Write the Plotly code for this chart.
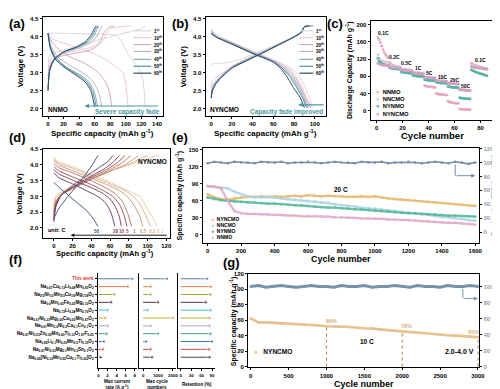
import plotly.graph_objects as go

W, H = 500, 389
FONT = "Liberation Sans, Arial, sans-serif"

def X(p): return p / W
def Y(p): return 1 - p / H
def dx(a, b): return [a / W, b / W]
def dy(top, bottom): return [1 - bottom / H, 1 - top / H]

# ---------------- panel (a) NNMO cycling curves ----------------
a_labels = ["1<sup>st</sup>", "10<sup>th</sup>", "20<sup>th</sup>", "30<sup>th</sup>", "40<sup>th</sup>", "50<sup>th</sup>", "60<sup>th</sup>"]
cyc_colors = ["#d9d9d9", "#eccad4", "#d6a9b7", "#b9b4c4", "#86adb6", "#5a91a4", "#2c4c6a"]
a_chg_cap = [[0, 3, 15, 35, 55, 75, 95, 110, 120, 126],
             [0, 3, 15, 35, 55, 68, 74, 80, 92, 107],
             [0, 3, 12, 30, 50, 62, 68, 73, 78, 85],
             [0, 3, 10, 25, 42, 56, 63, 67, 70],
             [0, 2, 8, 22, 38, 52, 59, 63, 66],
             [0, 2, 8, 21, 37, 50, 57, 61, 64],
             [0, 2, 7, 20, 35, 48, 55, 59, 62]]
a_chg_v = [[3.25, 3.5, 3.6, 3.72, 3.85, 3.97, 4.08, 4.16, 4.23, 4.3],
           [3.05, 3.35, 3.5, 3.6, 3.7, 3.82, 4.05, 4.22, 4.27, 4.3],
           [2.9, 3.25, 3.42, 3.52, 3.6, 3.72, 3.92, 4.15, 4.25, 4.3],
           [2.6, 3.15, 3.42, 3.58, 3.7, 3.85, 4.02, 4.2, 4.3],
           [2.5, 3.05, 3.35, 3.58, 3.7, 3.85, 4.02, 4.2, 4.3],
           [2.5, 3.05, 3.35, 3.58, 3.7, 3.86, 4.03, 4.2, 4.3],
           [2.5, 3.05, 3.35, 3.58, 3.7, 3.86, 4.03, 4.2, 4.3]]
a_dis_cap = [[0, 30, 60, 88, 95, 102, 110, 117, 122, 125],
             [0, 5, 20, 40, 60, 75, 88, 96, 100, 103],
             [0, 5, 15, 30, 45, 58, 68, 75, 79, 82],
             [0, 4, 12, 28, 44, 56, 63, 67, 69],
             [0, 3, 10, 24, 40, 52, 59, 62, 64],
             [0, 3, 10, 23, 38, 50, 57, 60, 62],
             [0, 3, 9, 22, 36, 48, 55, 58, 60]]
a_dis_v = [[4.1, 4.09, 4.07, 4.04, 3.85, 3.55, 3.3, 3.1, 2.8, 2.05],
           [4.1, 3.95, 3.82, 3.68, 3.52, 3.35, 3.15, 3.0, 2.7, 2.05],
           [4.05, 3.85, 3.62, 3.42, 3.28, 3.12, 2.92, 2.7, 2.45, 2.05],
           [4.05, 3.75, 3.45, 3.2, 3.0, 2.8, 2.55, 2.3, 2.05],
           [4.1, 3.72, 3.42, 3.15, 2.95, 2.75, 2.5, 2.25, 2.05],
           [4.1, 3.7, 3.4, 3.14, 2.94, 2.74, 2.5, 2.25, 2.05],
           [4.1, 3.68, 3.38, 3.13, 2.93, 2.73, 2.5, 2.25, 2.05]]

# ---------------- panel (b) NYNCMO cycling curves ----------------
b_chg_cap = [[0, 2, 10, 20, 35, 50, 65, 78, 86, 90, 100],
             [0, 1, 4, 9, 20, 35, 50, 65, 80, 87, 90, 99],
             [0, 1, 4, 9, 20, 35, 50, 65, 80, 87, 90, 98],
             [0, 1, 4, 9, 20, 35, 50, 65, 80, 87, 90, 97],
             [0, 1, 4, 9, 20, 35, 50, 65, 80, 87, 90, 96],
             [0, 1, 4, 9, 20, 35, 50, 65, 80, 87, 90, 95],
             [0, 1, 4, 9, 20, 35, 50, 65, 80, 87, 90, 94]]
b_chg_v = [[3.22, 3.25, 3.26, 3.3, 3.45, 3.62, 3.8, 3.97, 4.1, 4.25, 4.3],
           [2.6, 2.75, 2.85, 2.95, 3.18, 3.4, 3.6, 3.8, 4.0, 4.12, 4.28, 4.3],
           [2.4, 2.6, 2.75, 2.9, 3.16, 3.38, 3.58, 3.79, 4.0, 4.12, 4.28, 4.3],
           [2.35, 2.55, 2.72, 2.88, 3.15, 3.37, 3.57, 3.78, 4.0, 4.12, 4.28, 4.3],
           [2.3, 2.5, 2.7, 2.86, 3.14, 3.36, 3.56, 3.78, 3.99, 4.12, 4.28, 4.3],
           [2.3, 2.5, 2.68, 2.85, 3.13, 3.35, 3.55, 3.77, 3.99, 4.12, 4.28, 4.3],
           [2.28, 2.48, 2.66, 2.84, 3.12, 3.34, 3.55, 3.77, 3.99, 4.12, 4.28, 4.3]]
b_dis_cap = [[0, 5, 20, 40, 60, 72, 82, 89, 94, 98],
             [0, 5, 20, 40, 60, 71, 80, 87, 92, 97],
             [0, 5, 20, 40, 60, 70, 79, 86, 91, 96],
             [0, 5, 20, 40, 60, 69, 78, 85, 90, 94],
             [0, 5, 20, 40, 60, 68, 77, 84, 89, 93],
             [0, 5, 20, 40, 60, 68, 76, 83, 88, 92],
             [0, 5, 20, 40, 60, 67, 74, 80, 86, 90]]
b_dis_v = [[4.22, 4.05, 3.85, 3.6, 3.36, 3.2, 3.02, 2.7, 2.35, 2.02],
           [4.18, 4.03, 3.84, 3.58, 3.34, 3.18, 2.98, 2.65, 2.3, 2.02],
           [4.16, 4.02, 3.83, 3.57, 3.33, 3.16, 2.95, 2.62, 2.3, 2.02],
           [4.14, 4.01, 3.82, 3.56, 3.32, 3.15, 2.92, 2.6, 2.3, 2.02],
           [4.12, 4.0, 3.81, 3.55, 3.31, 3.14, 2.9, 2.58, 2.3, 2.02],
           [4.1, 3.99, 3.8, 3.54, 3.3, 3.13, 2.88, 2.56, 2.3, 2.02],
           [4.08, 3.98, 3.79, 3.53, 3.29, 3.12, 2.85, 2.55, 2.3, 2.02]]

# ---------------- panel (c) rate capability ----------------
c_names = ["NNMO", "NNCMO", "NYNMO", "NYNCMO"]
c_colors = ["#e6a6be", "#d8c6d6", "#58b3a5", "#d3a0c4"]
c_cycles = list(range(1, 86))
c_vals = [
    [170, 165, 158, 150, 142, 135, 130, 126, 123,
     112, 108, 106, 105, 104, 103, 102, 101, 100,
     96, 95, 94, 93, 93, 92, 92, 91, 91,
     86, 85, 85, 84, 84, 84, 83, 83, 83,
     58, 57, 56, 56, 55, 55, 55, 54, 54,
     40, 39, 38, 38, 37, 37, 37, 36, 36,
     22, 20, 19, 19, 18, 18, 17, 17, 17,
     4, 3, 3, 3, 2, 2, 2, 2, 2,
     110, 108, 106, 105, 104, 103, 102, 101, 100, 99, 98, 97, 96],
    [130, 122, 118, 116, 115, 114, 113, 112, 112,
     106, 105, 104, 104, 103, 103, 102, 102, 101,
     98, 97, 97, 96, 96, 95, 95, 95, 94,
     90, 89, 89, 88, 88, 88, 87, 87, 87,
     76, 75, 75, 75, 74, 74, 74, 74, 73,
     70, 69, 69, 68, 68, 68, 68, 67, 67,
     64, 63, 63, 62, 62, 62, 62, 61, 61,
     50, 49, 49, 48, 48, 48, 47, 47, 47,
     106, 105, 104, 103, 102, 101, 100, 99, 99, 98, 97, 96, 95],
    [122, 115, 112, 110, 108, 107, 106, 105, 105,
     100, 99, 98, 98, 97, 97, 97, 96, 96,
     90, 89, 89, 88, 88, 88, 87, 87, 87,
     82, 81, 81, 80, 80, 80, 80, 79, 79,
     72, 71, 71, 70, 70, 70, 70, 69, 69,
     66, 65, 65, 64, 64, 64, 64, 63, 63,
     56, 55, 55, 54, 54, 54, 54, 53, 53,
     30, 29, 29, 28, 28, 28, 28, 27, 27,
     95, 93, 92, 90, 89, 88, 87, 86, 85, 84, 83, 82, 81],
    [110, 108, 107, 106, 106, 105, 105, 105, 104,
     102, 101, 101, 100, 100, 100, 99, 99, 99,
     95, 94, 94, 94, 93, 93, 93, 93, 92,
     88, 88, 87, 87, 87, 87, 86, 86, 86,
     78, 77, 77, 77, 77, 76, 76, 76, 76,
     70, 70, 69, 69, 69, 69, 69, 68, 68,
     64, 63, 63, 63, 63, 62, 62, 62, 62,
     48, 48, 48, 47, 47, 47, 47, 47, 46,
     102, 101, 101, 100, 100, 99, 99, 99, 98, 98, 97, 97, 97],
]
c_rate_labels = ["0.1C", "0.2C", "0.5C", "1C", "5C", "10C", "20C", "50C", "0.1C"]
c_label_x = [5, 14, 23, 32, 41, 51, 60, 69, 80]
c_label_y = [180, 124, 111, 99, 88, 79, 71, 58, 118]

# ---------------- panel (d) NYNCMO rate curves ----------------
d_rates = ["0.1", "0.2", "0.5", "1", "5", "10", "20", "50"]
d_colors = ["#e9cfa6", "#dcb48f", "#cf9a7d", "#b8786b", "#a1565a", "#86485e", "#664469", "#4c5a82"]
d_dis_cap = [[0, 5, 20, 40, 60, 75, 85, 92, 100, 106, 110],
             [0, 5, 20, 40, 60, 75, 85, 92, 98, 103],
             [0, 5, 20, 40, 60, 72, 80, 87, 92, 95],
             [0, 5, 20, 40, 55, 65, 73, 79, 83],
             [0, 5, 20, 40, 55, 63, 70, 75, 78],
             [0, 5, 20, 40, 52, 60, 66, 70, 72],
             [0, 5, 20, 35, 48, 55, 60, 63, 65],
             [0, 5, 15, 25, 35, 42, 47]]
d_dis_v = [[4.25, 4.1, 3.95, 3.7, 3.45, 3.25, 3.1, 3.0, 2.6, 2.3, 2.05],
           [4.2, 4.05, 3.9, 3.65, 3.4, 3.2, 3.0, 2.75, 2.4, 2.05],
           [4.15, 4.0, 3.82, 3.58, 3.33, 3.15, 2.95, 2.65, 2.35, 2.05],
           [4.05, 3.92, 3.75, 3.5, 3.28, 3.1, 2.85, 2.45, 2.05],
           [3.95, 3.82, 3.62, 3.38, 3.15, 3.0, 2.75, 2.4, 2.05],
           [3.85, 3.72, 3.52, 3.28, 3.1, 2.92, 2.65, 2.35, 2.05],
           [3.75, 3.6, 3.4, 3.18, 2.98, 2.8, 2.55, 2.3, 2.05],
           [3.45, 3.3, 3.05, 2.8, 2.55, 2.3, 2.05]]
d_chg_cap = [[0, 2, 8, 20, 40, 60, 80, 95, 105, 112],
             [0, 2, 8, 20, 40, 60, 80, 92, 100],
             [0, 2, 8, 20, 40, 60, 75, 85, 90],
             [0, 2, 8, 20, 40, 60, 72, 82],
             [0, 2, 8, 20, 40, 58, 68, 76],
             [0, 2, 8, 20, 40, 55, 63, 70],
             [0, 2, 8, 20, 35, 50, 58, 63],
             [0, 5, 15, 25, 35, 42, 47]]
d_chg_v = [[2.7, 3.0, 3.15, 3.3, 3.55, 3.8, 4.0, 4.15, 4.25, 4.3],
           [2.6, 2.95, 3.1, 3.28, 3.55, 3.8, 4.02, 4.2, 4.3],
           [2.5, 2.85, 3.05, 3.25, 3.55, 3.8, 4.0, 4.18, 4.3],
           [2.4, 2.8, 3.05, 3.25, 3.55, 3.85, 4.05, 4.3],
           [2.3, 2.75, 3.05, 3.28, 3.6, 3.88, 4.08, 4.3],
           [2.25, 2.7, 3.05, 3.3, 3.65, 3.9, 4.08, 4.3],
           [2.2, 2.65, 3.05, 3.35, 3.65, 3.95, 4.12, 4.3],
           [2.3, 2.6, 3.0, 3.35, 3.75, 4.05, 4.3]]
d_label_x = [114, 105, 96, 86, 79, 73, 66, 46]

# ---------------- panel (e) long cycling at 20 C ----------------
e_cycles = list(range(0, 1601, 40))
e_names = ["NYNCMO", "NNCMO", "NYNMO", "NNMO"]
e_colors = ["#e8b46c", "#a9d3e3", "#52b79b", "#e2a7c8"]
e_vals = [
    [72, 66, 63, 62, 64, 66, 67, 67, 68, 67, 68, 67, 68, 69, 68, 70, 69, 68, 69, 68, 68,
     67, 67, 68, 67, 68, 66, 64, 63, 62, 61, 60, 59, 58, 57, 56, 55, 54, 53, 52, 51],
    [86, 85, 83, 82, 76, 72, 68, 66, 66, 67, 66, 64, 63, 62, 61, 60, 59, 57, 56, 54, 53,
     51, 50, 48, 47, 46, 45, 43, 42, 40, 39, 38, 36, 35, 33, 32, 31, 29, 28, 26, 25],
    [66, 63, 61, 60, 59, 58, 57, 57, 56, 55, 55, 54, 53, 52, 52, 51, 50, 49, 48, 48, 47,
     46, 45, 45, 44, 43, 42, 41, 40, 39, 38, 38, 37, 36, 36, 35, 34, 34, 33, 33, 32],
    [86, 85, 82, 60, 42, 38, 37, 37, 36, 36, 35, 35, 34, 34, 33, 33, 33, 32, 32, 31, 31,
     30, 30, 29, 29, 28, 28, 27, 27, 26, 26, 25, 24, 24, 23, 22, 21, 21, 20, 19, 18],
]
e_ce = [99, 101, 100, 99, 101, 100, 100, 99, 101, 100, 100, 101, 99, 100, 100, 101, 100, 99, 100, 101, 100,
        100, 99, 101, 100, 100, 101, 99, 100, 100, 101, 100, 99, 100, 101, 100, 99, 101, 100, 98, 100]

# ---------------- panel (f) literature comparison ----------------
f_names = ['<span style="color:#d63a3a">This work</span>',
           "Na<sub>0.67</sub>Cu<sub>0.13</sub>Li<sub>0.08</sub>Mn<sub>0.83</sub>O<sub>2</sub>",
           "Na<sub>2/3</sub>Ni<sub>1/3</sub>Mn<sub>2/3</sub>Cu<sub>1/9</sub>Mg<sub>1/18</sub>O<sub>2</sub>",
           "Na<sub>0.6</sub>Mn<sub>0.65</sub>Fe<sub>0.25</sub>Mg<sub>0.10</sub>O<sub>2</sub>",
           "Na<sub>0.72</sub>Li<sub>0.24</sub>Mn<sub>0.76</sub>O<sub>2</sub>",
           "Na<sub>0.67</sub>Ni<sub>0.23</sub>Mg<sub>0.05</sub>Cu<sub>0.05</sub>Mn<sub>0.67</sub>O<sub>2</sub>",
           "Na<sub>0.67</sub>Mn<sub>0.6</sub>Ni<sub>0.2</sub>Cu<sub>0.1</sub>Co<sub>0.1</sub>O<sub>2</sub>",
           "Na<sub>0.67</sub>Ni<sub>0.23</sub>Zn<sub>0.05</sub>Mn<sub>0.60</sub>Ti<sub>0.12</sub>O<sub>1.97</sub>F<sub>0.05</sub>",
           "Na<sub>0.85</sub>Li<sub>0.1</sub>Ni<sub>0.25</sub>Mn<sub>0.5</sub>Ti<sub>0.15</sub>O<sub>2</sub>",
           "Na<sub>0.67</sub>Ni<sub>0.33</sub>Mg<sub>0.1</sub>Mn<sub>0.5</sub>Sn<sub>0.1</sub>O<sub>2</sub>",
           "Na<sub>0.66</sub>[Ni<sub>0.33</sub>Mn<sub>0.55</sub>Cu<sub>0.1</sub>Ti<sub>0.02</sub>]O<sub>2</sub>"]
f_colors = ["#5a7f9c", "#e9813f", "#a7a93c", "#553344", "#3cbfcf", "#c9a93a",
            "#b89ad6", "#3aa37f", "#3a76b8", "#d8494a", "#444444"]
f_rate = [7.5, 6.5, 3.5, 2.8, 2.0, 1.5, 2.0, 1.8, 1.2, 1.0, 0.5]
f_cycles = [1600, 500, 500, 1000, 300, 2000, 500, 1000, 200, 500, 600]
f_ret = [76, 87, 86, 72, 86, 83, 83, 86, 90, 82, 83]
f_pos = [10, 9, 8, 7, 6, 5, 4, 3, 2, 1, 0]

# ---------------- panel (g) 3000 cycles at 10 C ----------------
g_cycles = list(range(0, 3001, 100))
g_cap = [62, 57, 57, 56.5, 56, 55.5, 55, 54.5, 54, 53, 52, 52, 51.5, 51, 50, 49.5,
         49, 48, 47, 46, 45, 44.5, 44, 43, 42, 41, 40.5, 40, 39.5, 39, 38]
g_ce = [100, 101, 99, 100, 101, 100, 99, 100, 101, 100, 100, 99, 101, 100, 100, 101,
        99, 100, 100, 101, 100, 99, 101, 100, 100, 99, 101, 100, 100, 101, 100]
g_marks = [1000, 2000, 3000]
g_mark_cap = [52, 45, 38]
g_mark_text = ["89%", "78%", "65%"]

fig = go.Figure()

def line(xs, ys, color, xa, ya, width=1.0):
    fig.add_trace(go.Scatter(x=xs, y=ys, mode="lines", xaxis=xa, yaxis=ya,
                             line=dict(color=color, width=width, shape="spline", smoothing=0.6),
                             showlegend=False, hoverinfo="skip"))

for i in range(7):
    line(a_chg_cap[i], a_chg_v[i], cyc_colors[i], "x", "y")
    line(a_dis_cap[i], a_dis_v[i], cyc_colors[i], "x", "y")
    line(b_chg_cap[i], b_chg_v[i], cyc_colors[i], "x2", "y2")
    line(b_dis_cap[i], b_dis_v[i], cyc_colors[i], "x2", "y2")

for i in range(4):
    fig.add_trace(go.Scatter(x=c_cycles, y=c_vals[i], mode="markers", xaxis="x3", yaxis="y3",
                             marker=dict(color=c_colors[i], size=2.8), name=c_names[i],
                             showlegend=False))

for i in range(8):
    line(d_chg_cap[i], d_chg_v[i], d_colors[i], "x4", "y4")
    line(d_dis_cap[i], d_dis_v[i], d_colors[i], "x4", "y4")

for i in range(4):
    fig.add_trace(go.Scatter(x=e_cycles, y=e_vals[i], mode="lines+markers", xaxis="x5", yaxis="y5",
                             line=dict(color=e_colors[i], width=2.2),
                             marker=dict(color=e_colors[i], size=2.8), opacity=0.9,
                             name=e_names[i], showlegend=False))
fig.add_trace(go.Scatter(x=e_cycles, y=e_ce, mode="lines+markers", xaxis="x5", yaxis="y6",
                         line=dict(color="#6f8ca4", width=1.6), marker=dict(color="#6f8ca4", size=2.5),
                         showlegend=False))

for j, (vals, xa) in enumerate([(f_rate, "x9"), (f_cycles, "x10"), (f_ret, "x11")]):
    ya = ["y9", "y10", "y11"][j]
    for i in range(len(f_pos)):
        fig.add_trace(go.Scatter(x=[0, vals[i]], y=[f_pos[i], f_pos[i]], mode="lines+markers",
                                 xaxis=xa, yaxis=ya, line=dict(color=f_colors[i], width=1),
                                 marker=dict(color=f_colors[i], size=[0, 3.5], symbol="circle"),
                                 showlegend=False, hoverinfo="skip"))

fig.add_trace(go.Scatter(x=g_cycles, y=g_cap, mode="lines+markers", xaxis="x7", yaxis="y7",
                         line=dict(color="#e6c28f", width=2.6), marker=dict(color="#e6c28f", size=2.5),
                         name="NYNCMO", showlegend=False))
fig.add_trace(go.Scatter(x=g_cycles, y=g_ce, mode="lines+markers", xaxis="x7", yaxis="y8",
                         line=dict(color="#7593aa", width=3), marker=dict(color="#7593aa", size=2.5),
                         showlegend=False))
for k in range(3):
    fig.add_trace(go.Scatter(x=[g_marks[k], g_marks[k]], y=[0, g_mark_cap[k]], mode="lines",
                             xaxis="x7", yaxis="y7", line=dict(color="#a5762c", width=0.9, dash="dot"),
                             showlegend=False, hoverinfo="skip"))

tickfont = dict(family=FONT, size=6, color="black", weight="bold")

def ax(domain, rng, tickvals, anchor, mirror=True, **kw):
    d = dict(domain=domain, range=rng, tickvals=tickvals, anchor=anchor, showline=True,
             linecolor="black", linewidth=1, mirror=mirror, ticks="outside", ticklen=2,
             tickwidth=0.8, tickcolor="black", showgrid=False, zeroline=False, tickfont=tickfont)
    d.update(kw)
    return d

small = dict(family=FONT, size=4.4, color="black", weight="bold")
lay = {}
lay["xaxis"] = ax(dx(35, 157), [-7, 148], [0, 20, 40, 60, 80, 100, 120, 140], "y")
lay["yaxis"] = ax(dy(6, 106), [1.8, 4.55], [2.0, 2.5, 3.0, 3.5, 4.0, 4.5], "x", tickformat=".1f")
lay["xaxis2"] = ax(dx(200, 322), [-5.4, 111], [0, 20, 40, 60, 80, 100], "y2")
lay["yaxis2"] = ax(dy(6, 106), [1.8, 4.55], [2.0, 2.5, 3.0, 3.5, 4.0, 4.5], "x2", tickformat=".1f")
lay["xaxis3"] = ax(dx(367, 494), [-4.6, 92], [0, 20, 40, 60, 80], "y3")
lay["yaxis3"] = ax(dy(10, 110), [-21, 209], [0, 40, 80, 120, 160, 200], "x3")
lay["xaxis4"] = ax(dx(35, 164), [-12, 124], [0, 20, 40, 60, 80, 100, 120], "y4")
lay["yaxis4"] = ax(dy(140, 230), [1.68, 4.5], [2.0, 2.5, 3.0, 3.5, 4.0, 4.5], "x4", tickformat=".1f")
lay["xaxis5"] = ax(dx(197, 477), [-30, 1624], [0, 200, 400, 600, 800, 1000, 1200, 1400, 1600], "y5")
lay["yaxis5"] = ax(dy(139, 235), [-14.5, 153], [0, 30, 60, 90, 120, 150], "x5", mirror=False)
lay["yaxis6"] = ax(dy(139, 235), [-15.7, 120.5], [0, 20, 40, 60, 80, 100, 120], "x5", mirror=False,
                   overlaying="y5", side="right",
                   tickfont=dict(family=FONT, size=6, color="#8ea2b2", weight="bold"))
lay["xaxis7"] = ax(dx(243, 477), [-35, 3017], [0, 500, 1000, 1500, 2000, 2500, 3000], "y7")
lay["yaxis7"] = ax(dy(266, 361), [-1, 120], [0, 20, 40, 60, 80, 100, 120], "x7", mirror=False)
lay["yaxis8"] = ax(dy(266, 361), [-1, 116], [0, 20, 40, 60, 80, 100], "x7", mirror=False,
                   overlaying="y7", side="right",
                   tickfont=dict(family=FONT, size=6, color="#8ea2b2", weight="bold"))
frange = [-1.42, 10.79]
lay["xaxis9"] = ax(dx(90.7, 131), [-0.2, 8.6], [0, 2, 4, 6, 8], "y9", mirror=False, tickfont=small)
lay["yaxis9"] = ax(dy(265, 362), frange, f_pos, "x9", mirror=False, ticktext=f_names,
                   tickfont=dict(family=FONT, size=4.6, color="black", weight="bold"))
lay["xaxis10"] = ax(dx(133, 170), [-250, 2200], [0, 1000, 2000], "y10", mirror=False, tickfont=small)
lay["yaxis10"] = ax(dy(265, 362), frange, [], "x10", mirror=False, ticks="", showticklabels=False)
lay["xaxis11"] = ax(dx(172, 210), [-8, 100], [0, 30, 60, 90], "y11", mirror=False, tickfont=small)
lay["yaxis11"] = ax(dy(265, 362), frange, [], "x11", mirror=False, ticks="", showticklabels=False)

ann = []
def note(text, xp, yp, size, color="black", angle=0, xanchor="center", bold=True):
    t = "<b>%s</b>" % text if bold else text
    ann.append(dict(text=t, x=X(xp), y=Y(yp), xref="paper", yref="paper", showarrow=False,
                    xanchor=xanchor, yanchor="middle", textangle=angle, borderpad=0,
                    font=dict(family=FONT, size=size, color=color)))

def dnote(text, x, y, xr, yr, size, color="black", xanchor="center"):
    ann.append(dict(text="<b>%s</b>" % text, x=x, y=y, xref=xr, yref=yr, showarrow=False,
                    xanchor=xanchor, yanchor="middle", font=dict(family=FONT, size=size, color=color)))

def arrow(x0, x1, y, xr, yr, color, width=1.1):
    ann.append(dict(text="", x=x1, y=y, ax=x0, ay=y, xref=xr, yref=yr, axref=xr, ayref=yr,
                    showarrow=True, arrowhead=2, arrowsize=0.8, arrowwidth=width, arrowcolor=color))

# panel letters
for lab, xp, yp in [("(a)", 0, 13), ("(b)", 165, 13), ("(c)", 322, 13), ("(d)", 0, 128),
                    ("(e)", 165, 128), ("(f)", 0, 252), ("(g)", 217, 255)]:
    note(lab, xp, yp, 13, xanchor="left")

cap_title = "Specific capacity (mAh g<sup>-1</sup>)"
note(cap_title, 96, 124, 8)
note("Voltage (V)", 12, 56, 8, angle=-90)
note(cap_title, 261, 124, 8)
note("Voltage (V)", 177, 56, 8, angle=-90)
note("Cycle number", 430, 126, 9.5)
note("Discharge Capacity (mAh g<sup>-1</sup>)", 345, 60, 7, angle=-90)
note(cap_title, 98, 245, 7.6)
note("Voltage (V)", 12, 185, 8, angle=-90)
note("Cycle number", 337, 251, 9)
note(cap_title, 174, 187, 7, angle=-90)
note("Coulombic Efficiency(%)", 491, 187, 7, color="#8ea2b2", angle=-90)
note("Cycle number", 360, 378, 9)
note(cap_title, 229, 314, 7, angle=-90)
note("Coulombic Efficiency(%)", 494, 314, 7, color="#8ea2b2", angle=-90)
note("Max current<br>rate (A g<sup>-1</sup>)", 111, 378.5, 4.6)
note("Max cycle<br>numbers", 151, 378.5, 4.6)
note("Retention (%)", 191, 378, 4.6)

# legends (a), (b)
a_leg_y = [20, 27, 34, 41, 49, 56, 63]
shapes = []
for i in range(7):
    for x0, x1, xt in [(127, 145, 147), (295, 309, 311)]:
        shapes.append(dict(type="line", xref="paper", yref="paper", x0=X(x0), x1=X(x1),
                           y0=Y(a_leg_y[i]), y1=Y(a_leg_y[i]), line=dict(color=cyc_colors[i], width=1.2)))
        note(a_labels[i], xt, a_leg_y[i], 4.5, xanchor="left")

# legend (c)
for i, yp in enumerate([82, 89, 96, 104]):
    note('<span style="color:%s">●</span>  %s' % (c_colors[i], c_names[i]), 371, yp, 5.8, xanchor="left")
# legend (e)
for i, yp in enumerate([211, 217, 223, 229]):
    note('<span style="color:%s">●</span>  %s' % (e_colors[i], e_names[i]), 204, yp, 5, xanchor="left")

# panel (a) texts
dnote("NNMO", -3, 1.96, "x", "y", 6.5, xanchor="left")
dnote("Severe capacity fade", 146, 1.9, "x", "y", 6.5, color="#4d98a2", xanchor="right")
arrow(143, 47, 2.07, "x", "y", "#4d98a2")
# panel (b) texts
dnote("NYNCMO", -3, 1.96, "x2", "y2", 6.5, xanchor="left")
dnote("Capacity fade improved", 110, 1.9, "x2", "y2", 6.5, color="#4d98a2", xanchor="right")
arrow(110, 84, 2.1, "x2", "y2", "#4d98a2")
# panel (c) rate labels
for k in range(len(c_rate_labels)):
    dnote(c_rate_labels[k], c_label_x[k], c_label_y[k], "x3", "y3", 5)
# panel (d) texts
dnote("NYNCMO", 88, 4.12, "x4", "y4", 6.5, xanchor="left")
dnote("unit: C", -8, 1.92, "x4", "y4", 5.5, xanchor="left")
for k in range(8):
    dnote(d_rates[k], d_label_x[k], 1.9, "x4", "y4", 4.6, color=d_colors[k])
arrow(122, 18, 1.77, "x4", "y4", "black", 0.9)
# panel (e) texts
dnote("20 C", 800, 80, "x5", "y5", 6.5)
shapes.append(dict(type="line", xref="x5", yref="y6", x0=1480, x1=1480, y0=97, y1=81,
                   line=dict(color="#6f8ca4", width=1)))
arrow(1480, 1600, 81, "x5", "y6", "#6f8ca4", 1)
# panel (g) texts
dnote("10 C", 1530, 32, "x7", "y7", 6.5)
note('<span style="color:#e6c28f">●</span>   NYNCMO', 248, 345, 6.5, xanchor="left")
dnote("2.0-4.0 V", 2975, 19, "x7", "y7", 7, xanchor="right")
for k in range(3):
    dnote(g_mark_text[k], g_marks[k] - (60 if k == 2 else -60), g_mark_cap[k] + 7, "x7", "y7", 5.5,
          color="#d9b27a")
shapes.append(dict(type="line", xref="x7", yref="y8", x0=2800, x1=2800, y0=97, y1=85,
                   line=dict(color="#7593aa", width=1)))
arrow(2800, 3000, 85, "x7", "y8", "#7593aa", 1)

fig.update_layout(width=W, height=H, margin=dict(l=0, r=0, t=0, b=0),
                  paper_bgcolor="white", plot_bgcolor="white", showlegend=False,
                  font=dict(family=FONT), annotations=ann, shapes=shapes, **lay)
fig.write_html("out.html")
